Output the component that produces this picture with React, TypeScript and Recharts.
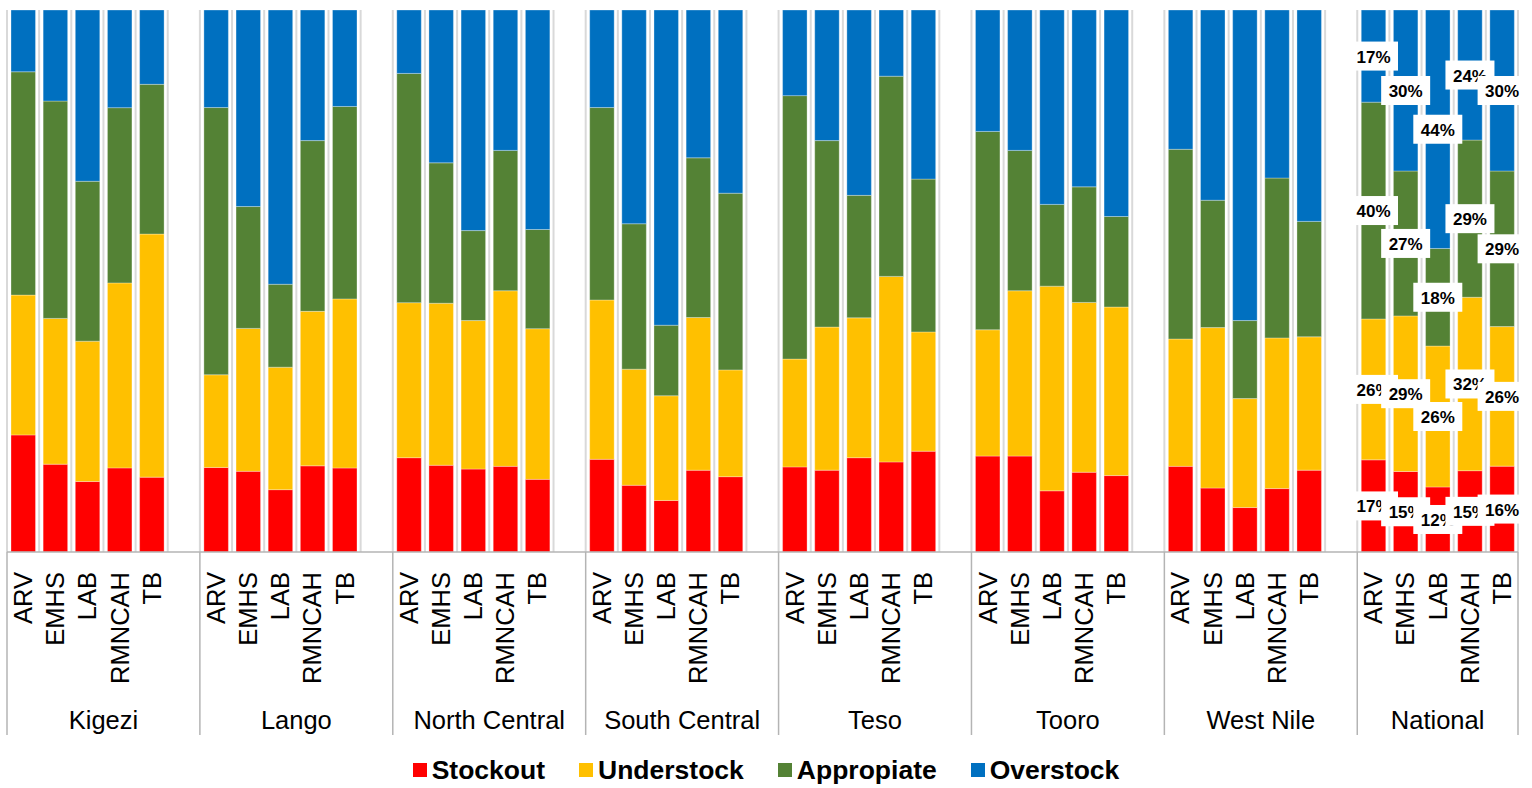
import React from 'react';
import { BarChart, Bar, XAxis, YAxis, CartesianGrid, Legend, LabelList } from 'recharts';

const GROUPS = ['Kigezi', 'Lango', 'North Central', 'South Central', 'Teso', 'Tooro', 'West Nile', 'National'];
const PRODUCTS = ['ARV', 'EMHS', 'LAB', 'RMNCAH', 'TB'];
const SERIES_NAMES = ['Stockout', 'Understock', 'Appropiate', 'Overstock'];

// values per group, in PRODUCTS order (percent)
const STOCKOUT = [
  21.6, 16.2, 13.0, 15.5, 13.8,
  15.6, 14.9, 11.5, 15.9, 15.5,
  17.4, 16.0, 15.3, 15.8, 13.4,
  17.1, 12.3, 9.5, 15.1, 13.9,
  15.7, 15.1, 17.4, 16.6, 18.6,
  17.7, 17.7, 11.3, 14.7, 14.1,
  15.8, 11.8, 8.2, 11.7, 15.1,
  17, 15, 12, 15, 16,
];
const UNDERSTOCK = [
  25.8, 26.9, 25.9, 34.1, 44.8,
  17.1, 26.4, 22.6, 28.5, 31.2,
  28.6, 29.9, 27.4, 32.4, 27.8,
  29.4, 21.4, 19.3, 28.2, 19.7,
  19.9, 26.4, 25.8, 34.2, 22.0,
  23.3, 30.5, 37.8, 31.3, 31.1,
  23.5, 29.6, 20.1, 27.8, 24.6,
  26, 29, 26, 32, 26,
];
const APPROPRIATE = [
  41.2, 40.1, 29.5, 32.3, 27.6,
  49.3, 22.5, 15.3, 31.5, 35.5,
  42.3, 25.9, 16.6, 25.9, 18.3,
  35.5, 26.8, 13.0, 29.5, 32.6,
  48.6, 34.4, 22.6, 36.9, 28.2,
  36.6, 25.9, 15.1, 21.3, 16.7,
  35.0, 23.5, 14.4, 29.5, 21.3,
  40, 27, 18, 29, 29,
];
const OVERSTOCK = [
  11.4, 16.8, 31.6, 18.0, 13.7,
  18.0, 36.3, 50.6, 24.1, 17.8,
  11.7, 28.2, 40.7, 25.9, 40.5,
  18.0, 39.4, 58.1, 27.3, 33.8,
  15.8, 24.1, 34.2, 12.2, 31.2,
  22.4, 25.9, 35.9, 32.6, 38.1,
  25.7, 35.1, 57.3, 31.0, 39.0,
  17, 30, 44, 24, 30,
];
const LABELLED_GROUP = 'National';

const COLORS = { stockout: '#FF0000', understock: '#FFC000', appropriate: '#548235', overstock: '#0070C0' };

const CHART_W = 1532;
const CHART_H = 788;
const MARGIN = { top: 10, right: 14, left: 7, bottom: 0 };
const FONT = '"Liberation Sans", Arial, sans-serif';

type Row = {
  key: string; cat: string; group: string; gap: boolean; pi: number; last: boolean;
  stockout: number; understock: number; appropriate: number; overstock: number;
};

const rows: Row[] = [];
GROUPS.forEach((g, gi) => {
  PRODUCTS.forEach((p, pi) => {
    const k = gi * PRODUCTS.length + pi;
    rows.push({
      key: `${g}-${p}`, cat: p, group: g, gap: false, pi,
      last: gi === GROUPS.length - 1 && pi === PRODUCTS.length - 1,
      stockout: STOCKOUT[k], understock: UNDERSTOCK[k], appropriate: APPROPRIATE[k], overstock: OVERSTOCK[k],
    });
  });
  if (gi < GROUPS.length - 1) {
    rows.push({ key: `${g}-gap`, cat: '', group: g, gap: true, pi: -1, last: false, stockout: 0, understock: 0, appropriate: 0, overstock: 0 });
  }
});

const PLOT_W = CHART_W - MARGIN.left - MARGIN.right;
const AXIS_COLOR = '#b4b4b4';

const CategoryTick = (props: any) => {
  const { x, y, payload } = props;
  const row = rows[payload.index];
  if (!row) return null;
  const slot = payload.offset > 0 ? payload.offset * 2 : PLOT_W / rows.length;
  const els: React.ReactNode[] = [];
  if (!row.gap) {
    els.push(
      <text key="t" x={x + 9} y={y + 20} transform={`rotate(-90 ${x + 9} ${y + 20})`} textAnchor="end"
        fontSize={25.5} fontFamily={FONT} fill="#000">{row.cat}</text>
    );
  }
  if (row.pi === 0) {
    els.push(<line key="l" x1={x - slot / 2} x2={x - slot / 2} y1={y} y2={y + 183} stroke={AXIS_COLOR} strokeWidth={1.5} />);
  }
  if (row.last) {
    els.push(<line key="r" x1={x + slot / 2} x2={x + slot / 2} y1={y} y2={y + 183} stroke={AXIS_COLOR} strokeWidth={1.5} />);
  }
  if (row.pi === 2) {
    const hasGap = row.group !== GROUPS[GROUPS.length - 1];
    const gx = x + (hasGap ? slot / 2 : 0);
    els.push(
      <text key="g" x={gx} y={y + 176.5} textAnchor="middle" fontSize={25.5} fontFamily={FONT} fill="#000">{row.group}</text>
    );
  }
  return <g>{els}</g>;
};

const renderLabel = (props: any) => {
  const { value } = props;
  if (value === null || value === undefined) return null;
  const vb = props.viewBox && props.viewBox.width !== undefined ? props.viewBox : props;
  const x = Number(vb.x), y = Number(vb.y), w = Number(vb.width), h = Number(vb.height);
  const cx = x + w / 2;
  const cy = y + h / 2;
  return (
    <g>
      <rect x={cx - 24.5} y={cy - 14.5} width={49} height={29} fill="#fff" />
      <text x={cx} y={cy + 1} textAnchor="middle" dominantBaseline="central" fontSize={17}
        fontWeight="bold" fontFamily={FONT} fill="#000">{`${value}%`}</text>
    </g>
  );
};

const labelKey = (field: keyof Row) => (r: Row) => (r.group === LABELLED_GROUP ? (r[field] as number) : null);

const LegendContent = (props: any) => {
  const items = ([...(props.payload || [])] as any[]).sort(
    (a, b) => SERIES_NAMES.indexOf(a.value) - SERIES_NAMES.indexOf(b.value)
  );
  return (
    <div style={{
      height: 53, boxSizing: 'border-box', paddingTop: 17, display: 'flex', alignItems: 'center',
      justifyContent: 'center', fontFamily: FONT,
    }}>
      {items.map((it, i) => (
        <div key={i} style={{ display: 'flex', alignItems: 'center', marginLeft: i === 0 ? 0 : 34 }}>
          <div style={{ width: 14, height: 14, background: it.color, marginRight: 5 }} />
          <span style={{ fontSize: 26.5, fontWeight: 'bold', color: '#000', lineHeight: '30px' }}>{it.value}</span>
        </div>
      ))}
    </div>
  );
};

export default function App() {
  return (
    <div style={{ position: 'absolute', left: 0, top: 0, width: CHART_W, height: CHART_H, background: '#fff' }}>
      <BarChart width={CHART_W} height={CHART_H} data={rows} margin={MARGIN} stackOffset="expand" barSize={24.5}>
        <CartesianGrid
          horizontal={false}
          vertical
          stroke="#d9d9d9"
          strokeWidth={2}
          verticalCoordinatesGenerator={(p: any) => {
            const off = p.offset;
            return Array.from({ length: rows.length + 1 }, (_, i) => off.left + (i * off.width) / rows.length);
          }}
        />
        <XAxis
          dataKey="key"
          type="category"
          interval={0}
          height={183}
          tickSize={0}
          tickMargin={0}
          tickLine={false}
          axisLine={{ stroke: AXIS_COLOR, strokeWidth: 1.5 }}
          tick={<CategoryTick />}
        />
        <YAxis hide domain={[0, 1]} />
        <Bar dataKey="stockout" name={SERIES_NAMES[0]} stackId="a" fill={COLORS.stockout} stroke="rgba(255,255,255,0.3)" strokeWidth={1} isAnimationActive={false}>
          <LabelList dataKey={labelKey('stockout') as any} content={renderLabel} />
        </Bar>
        <Bar dataKey="understock" name={SERIES_NAMES[1]} stackId="a" fill={COLORS.understock} stroke="rgba(255,255,255,0.3)" strokeWidth={1} isAnimationActive={false}>
          <LabelList dataKey={labelKey('understock') as any} content={renderLabel} />
        </Bar>
        <Bar dataKey="appropriate" name={SERIES_NAMES[2]} stackId="a" fill={COLORS.appropriate} stroke="rgba(255,255,255,0.3)" strokeWidth={1} isAnimationActive={false}>
          <LabelList dataKey={labelKey('appropriate') as any} content={renderLabel} />
        </Bar>
        <Bar dataKey="overstock" name={SERIES_NAMES[3]} stackId="a" fill={COLORS.overstock} stroke="rgba(255,255,255,0.3)" strokeWidth={1} isAnimationActive={false}>
          <LabelList dataKey={labelKey('overstock') as any} content={renderLabel} />
        </Bar>
        <Legend verticalAlign="bottom" wrapperStyle={{ left: 0, width: CHART_W }} content={<LegendContent />} />
      </BarChart>
    </div>
  );
}
